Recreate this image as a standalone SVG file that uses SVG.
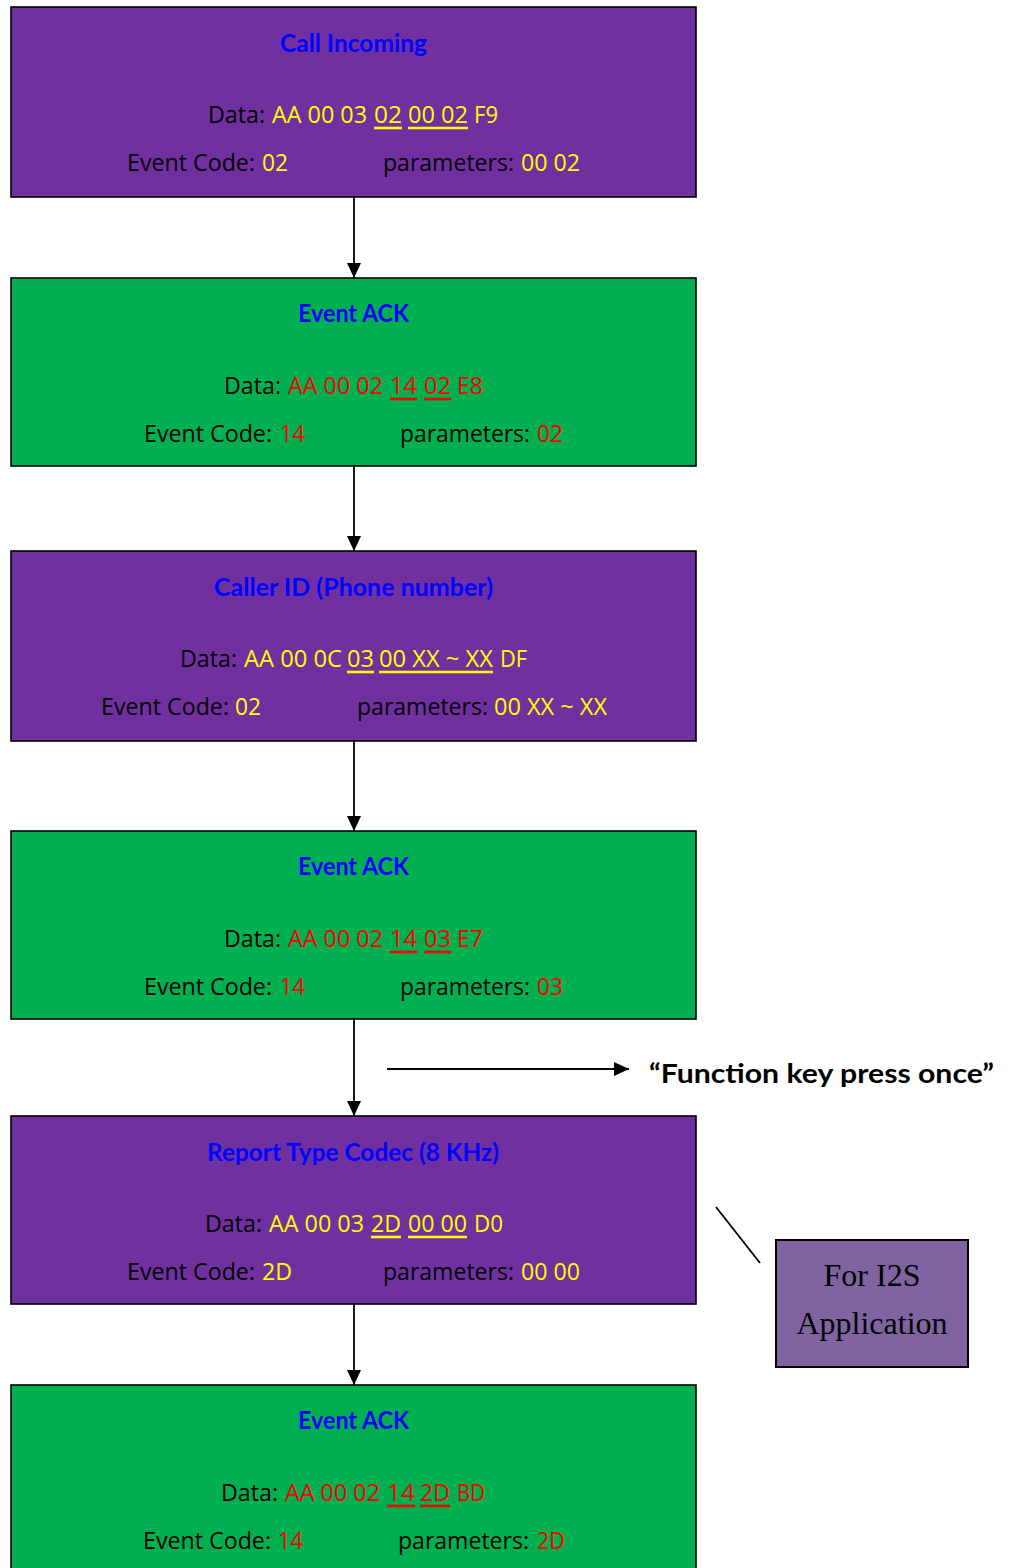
<svg xmlns="http://www.w3.org/2000/svg" width="1011" height="1568" viewBox="0 0 1011 1568">
<defs>
<marker id="ah" markerUnits="userSpaceOnUse" markerWidth="14" markerHeight="16" refX="15" refY="7" orient="auto">
<path d="M0,0 L15,7 L0,14 Z" fill="#000"/>
</marker>
<style>
.box{stroke:#000;stroke-width:1.6}
.p{fill:#7030A0}
.g{fill:#00B050}
.t{font-family:"Open Sans","Noto Sans",sans-serif;font-size:23px}
.ti{font-family:Lato,"Open Sans",sans-serif;font-size:24.5px;font-weight:bold;fill:#0000FF}
.k{fill:#000}
.y{fill:#FFFF00}
.r{fill:#FF0000}
.uy{stroke:#FFFF00;stroke-width:2.6}
.ur{stroke:#FF0000;stroke-width:2.6}
.c{stroke:#000;stroke-width:1.8;fill:none}
</style>
</defs>
<rect width="1011" height="1568" fill="#fff"/>

<g id="connectors">
<line class="c" x1="354" y1="197" x2="354" y2="278" marker-end="url(#ah)"/>
<line class="c" x1="354" y1="466" x2="354" y2="551" marker-end="url(#ah)"/>
<line class="c" x1="354" y1="741" x2="354" y2="831" marker-end="url(#ah)"/>
<line class="c" x1="354" y1="1019" x2="354" y2="1116" marker-end="url(#ah)"/>
<line class="c" x1="354" y1="1304" x2="354" y2="1385" marker-end="url(#ah)"/>
<line class="c" x1="387" y1="1069" x2="629" y2="1069" marker-end="url(#ah)"/>
<line class="c" x1="716" y1="1207" x2="760" y2="1263"/>
</g>

<g id="fkey">
<text x="649" y="1083" font-family="Lato,'Open Sans',sans-serif" font-size="26.5" font-weight="bold" fill="#000" textLength="345" lengthAdjust="spacingAndGlyphs">“Function key press once”</text>
</g>

<g id="box1">
<rect class="box p" x="11" y="7" width="685" height="190"/>
<text class="ti" x="280" y="52" textLength="147" lengthAdjust="spacingAndGlyphs">Call Incoming</text>
<text class="t k" x="208" y="123" textLength="57" lengthAdjust="spacingAndGlyphs">Data:</text>
<text class="t y" x="272" y="123" textLength="95" lengthAdjust="spacingAndGlyphs">AA 00 03</text>
<text class="t y" x="374" y="123" textLength="28" lengthAdjust="spacingAndGlyphs">02</text>
<text class="t y" x="408" y="123" textLength="60" lengthAdjust="spacingAndGlyphs">00 02</text>
<text class="t y" x="474" y="123" textLength="24" lengthAdjust="spacingAndGlyphs">F9</text>
<line class="uy" x1="374" y1="128" x2="402" y2="128"/>
<line class="uy" x1="408" y1="128" x2="468" y2="128"/>
<text class="t k" x="127" y="171" textLength="128" lengthAdjust="spacingAndGlyphs">Event Code:</text>
<text class="t y" x="262" y="171" textLength="26" lengthAdjust="spacingAndGlyphs">02</text>
<text class="t k" x="383" y="171" textLength="131" lengthAdjust="spacingAndGlyphs">parameters:</text>
<text class="t y" x="521" y="171" textLength="59" lengthAdjust="spacingAndGlyphs">00 02</text>
</g>

<g id="box2">
<rect class="box g" x="11" y="278" width="685" height="188"/>
<text class="ti" x="298" y="322" textLength="111" lengthAdjust="spacingAndGlyphs">Event ACK</text>
<text class="t k" x="224" y="394" textLength="57" lengthAdjust="spacingAndGlyphs">Data:</text>
<text class="t r" x="288" y="394" textLength="95" lengthAdjust="spacingAndGlyphs">AA 00 02</text>
<text class="t r" x="390" y="394" textLength="27" lengthAdjust="spacingAndGlyphs">14</text>
<text class="t r" x="424" y="394" textLength="27" lengthAdjust="spacingAndGlyphs">02</text>
<text class="t r" x="457" y="394" textLength="26" lengthAdjust="spacingAndGlyphs">E8</text>
<line class="ur" x1="390" y1="399" x2="417" y2="399"/>
<line class="ur" x1="424" y1="399" x2="451" y2="399"/>
<text class="t k" x="144" y="442" textLength="128" lengthAdjust="spacingAndGlyphs">Event Code:</text>
<text class="t r" x="280" y="442" textLength="25" lengthAdjust="spacingAndGlyphs">14</text>
<text class="t k" x="400" y="442" textLength="130" lengthAdjust="spacingAndGlyphs">parameters:</text>
<text class="t r" x="537" y="442" textLength="26" lengthAdjust="spacingAndGlyphs">02</text>
</g>

<g id="box3">
<rect class="box p" x="11" y="551" width="685" height="190"/>
<text class="ti" x="214" y="596" textLength="279" lengthAdjust="spacingAndGlyphs">Caller ID (Phone number)</text>
<text class="t k" x="180" y="667" textLength="57" lengthAdjust="spacingAndGlyphs">Data:</text>
<text class="t y" x="244" y="667" textLength="98" lengthAdjust="spacingAndGlyphs">AA 00 0C</text>
<text class="t y" x="347" y="667" textLength="27" lengthAdjust="spacingAndGlyphs">03</text>
<text class="t y" x="379" y="667" textLength="114" lengthAdjust="spacingAndGlyphs">00 XX ~ XX</text>
<text class="t y" x="500" y="667" textLength="27" lengthAdjust="spacingAndGlyphs">DF</text>
<line class="uy" x1="347" y1="672" x2="374" y2="672"/>
<line class="uy" x1="379" y1="672" x2="493" y2="672"/>
<text class="t k" x="101" y="715" textLength="128" lengthAdjust="spacingAndGlyphs">Event Code:</text>
<text class="t y" x="235" y="715" textLength="26" lengthAdjust="spacingAndGlyphs">02</text>
<text class="t k" x="357" y="715" textLength="131" lengthAdjust="spacingAndGlyphs">parameters:</text>
<text class="t y" x="494" y="715" textLength="113" lengthAdjust="spacingAndGlyphs">00 XX ~ XX</text>
</g>

<g id="box4">
<rect class="box g" x="11" y="831" width="685" height="188"/>
<text class="ti" x="298" y="875" textLength="111" lengthAdjust="spacingAndGlyphs">Event ACK</text>
<text class="t k" x="224" y="947" textLength="57" lengthAdjust="spacingAndGlyphs">Data:</text>
<text class="t r" x="288" y="947" textLength="95" lengthAdjust="spacingAndGlyphs">AA 00 02</text>
<text class="t r" x="390" y="947" textLength="27" lengthAdjust="spacingAndGlyphs">14</text>
<text class="t r" x="424" y="947" textLength="27" lengthAdjust="spacingAndGlyphs">03</text>
<text class="t r" x="457" y="947" textLength="26" lengthAdjust="spacingAndGlyphs">E7</text>
<line class="ur" x1="390" y1="952" x2="417" y2="952"/>
<line class="ur" x1="424" y1="952" x2="451" y2="952"/>
<text class="t k" x="144" y="995" textLength="128" lengthAdjust="spacingAndGlyphs">Event Code:</text>
<text class="t r" x="280" y="995" textLength="25" lengthAdjust="spacingAndGlyphs">14</text>
<text class="t k" x="400" y="995" textLength="130" lengthAdjust="spacingAndGlyphs">parameters:</text>
<text class="t r" x="537" y="995" textLength="26" lengthAdjust="spacingAndGlyphs">03</text>
</g>

<g id="box5">
<rect class="box p" x="11" y="1116" width="685" height="188"/>
<text class="ti" x="207" y="1161" textLength="292" lengthAdjust="spacingAndGlyphs">Report Type Codec (8 KHz)</text>
<text class="t k" x="205" y="1232" textLength="57" lengthAdjust="spacingAndGlyphs">Data:</text>
<text class="t y" x="269" y="1232" textLength="95" lengthAdjust="spacingAndGlyphs">AA 00 03</text>
<text class="t y" x="371" y="1232" textLength="30" lengthAdjust="spacingAndGlyphs">2D</text>
<text class="t y" x="408" y="1232" textLength="59" lengthAdjust="spacingAndGlyphs">00 00</text>
<text class="t y" x="474" y="1232" textLength="29" lengthAdjust="spacingAndGlyphs">D0</text>
<line class="uy" x1="371" y1="1237" x2="401" y2="1237"/>
<line class="uy" x1="408" y1="1237" x2="467" y2="1237"/>
<text class="t k" x="127" y="1280" textLength="128" lengthAdjust="spacingAndGlyphs">Event Code:</text>
<text class="t y" x="262" y="1280" textLength="30" lengthAdjust="spacingAndGlyphs">2D</text>
<text class="t k" x="383" y="1280" textLength="131" lengthAdjust="spacingAndGlyphs">parameters:</text>
<text class="t y" x="521" y="1280" textLength="59" lengthAdjust="spacingAndGlyphs">00 00</text>
</g>

<g id="box6">
<rect class="box g" x="11" y="1385" width="685" height="200"/>
<text class="ti" x="298" y="1429" textLength="111" lengthAdjust="spacingAndGlyphs">Event ACK</text>
<text class="t k" x="221" y="1501" textLength="57" lengthAdjust="spacingAndGlyphs">Data:</text>
<text class="t r" x="285" y="1501" textLength="95" lengthAdjust="spacingAndGlyphs">AA 00 02</text>
<text class="t r" x="387" y="1501" textLength="28" lengthAdjust="spacingAndGlyphs">14</text>
<text class="t r" x="420" y="1501" textLength="30" lengthAdjust="spacingAndGlyphs">2D</text>
<text class="t r" x="457" y="1501" textLength="28" lengthAdjust="spacingAndGlyphs">BD</text>
<line class="ur" x1="387" y1="1506" x2="415" y2="1506"/>
<line class="ur" x1="420" y1="1506" x2="450" y2="1506"/>
<text class="t k" x="143" y="1549" textLength="128" lengthAdjust="spacingAndGlyphs">Event Code:</text>
<text class="t r" x="278" y="1549" textLength="25" lengthAdjust="spacingAndGlyphs">14</text>
<text class="t k" x="398" y="1549" textLength="131" lengthAdjust="spacingAndGlyphs">parameters:</text>
<text class="t r" x="537" y="1549" textLength="28" lengthAdjust="spacingAndGlyphs">2D</text>
</g>

<g id="i2s">
<rect x="776" y="1240" width="192" height="127" fill="#8064A2" stroke="#000" stroke-width="2"/>
<text x="872" y="1286" text-anchor="middle" font-family="'Liberation Serif',serif" font-size="32" fill="#000">For I2S</text>
<text x="872" y="1334" text-anchor="middle" font-family="'Liberation Serif',serif" font-size="32" fill="#000">Application</text>
</g>
</svg>
